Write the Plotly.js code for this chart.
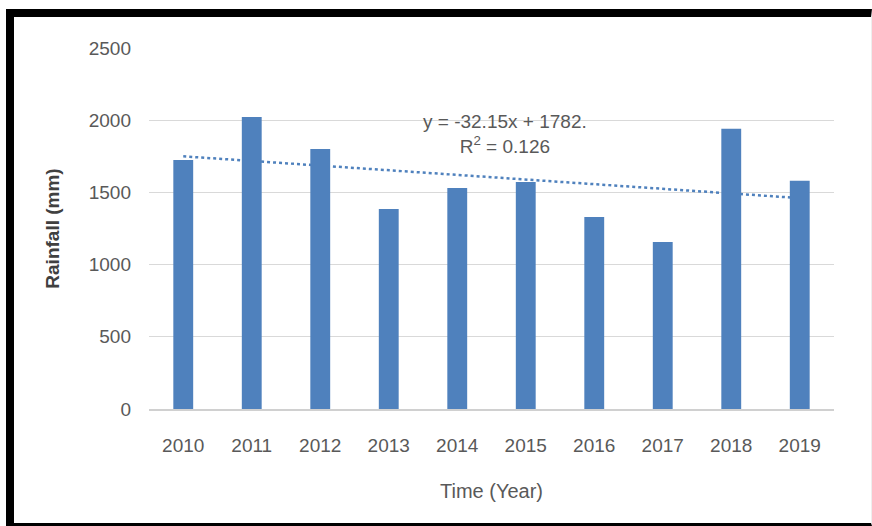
<!DOCTYPE html>
<html>
<head>
<meta charset="utf-8">
<script src="https://cdn.plot.ly/plotly-3.0.1.min.js"></script>
<style>
  html, body { margin:0; padding:0; background:#fff; }
  #chart { width:872px; height:526px; position:absolute; left:0; top:0; }
  #frame { position:absolute; left:6px; top:9px; width:866px; height:517px; box-sizing:border-box;
           border-top:8px solid #000; border-left:8px solid #000; border-bottom:3px solid #000;
           border-right:1px solid #eeeeee; pointer-events:none; }
</style>
</head>
<body>
<div id="chart"></div>
<div id="frame"></div>
<script>
// ---- data ----
const years = ['2010','2011','2012','2013','2014','2015','2016','2017','2018','2019'];
const rainfall = [1725, 2022, 1800, 1385, 1530, 1572, 1330, 1157, 1940, 1580];
const trendSlope = -32.15;
const trendIntercept = 1782;
const equationText = 'y = -32.15x + 1782.';
const r2Text = 'R<sup>2</sup> = 0.126';
const yTicks = [0, 500, 1000, 1500, 2000, 2500];

const trendY = years.map((_, i) => trendIntercept + trendSlope * (i + 1));

const textColor = '#595959';
const font = 'Liberation Sans, Arial, sans-serif';

const traces = [
  {
    type: 'scatter', mode: 'lines', x: years, y: trendY,
    xaxis: 'x', yaxis: 'y',
    line: { color: '#4f81bd', width: 2.5, dash: 'dot' },
    hoverinfo: 'skip', showlegend: false
  },
  {
    type: 'bar', x: years, y: rainfall,
    xaxis: 'x2', yaxis: 'y2',
    marker: { color: '#4f81bd' },
    showlegend: false
  }
];

const xCommon = { type: 'category', range: [-0.5, 9.5], fixedrange: true };
const yCommon = { range: [0, 2500], fixedrange: true };

const layout = {
  width: 872, height: 526,
  margin: { l: 149, r: 38, t: 48, b: 117 },
  paper_bgcolor: '#ffffff', plot_bgcolor: '#ffffff',
  bargap: 0.71,
  showlegend: false,
  font: { family: font, color: textColor, size: 18 },
  xaxis: Object.assign({}, xCommon, {
    showgrid: false, zeroline: false,
    showline: true, linecolor: '#d0d0d0', linewidth: 1.5,
    ticks: '', ticklabelstandoff: 19,
    tickfont: { family: font, size: 19, color: textColor },
    title: { text: 'Time (Year)', font: { family: font, size: 20, color: textColor }, standoff: 28 },
    automargin: false
  }),
  yaxis: Object.assign({}, yCommon, {
    tickvals: yTicks, ticktext: yTicks.map(String),
    showgrid: true, gridcolor: '#d9d9d9', gridwidth: 1,
    zeroline: false, showline: false, ticks: '',
    ticklabelstandoff: 17,
    tickfont: { family: font, size: 19, color: textColor },
    title: { text: '<b>Rainfall (mm)</b>', font: { family: font, size: 19, color: '#404040' }, standoff: 24 },
    automargin: false
  }),
  xaxis2: Object.assign({}, xCommon, { overlaying: 'x', visible: false, matches: 'x' }),
  yaxis2: Object.assign({}, yCommon, { overlaying: 'y', visible: false, matches: 'y' }),
  annotations: [
    {
      xref: 'paper', yref: 'paper', x: 0.52, y: 0.762,
      xanchor: 'center', yanchor: 'middle', align: 'center', showarrow: false,
      text: equationText + '<br>' + r2Text,
      font: { family: font, size: 19, color: textColor }
    }
  ]
};

Plotly.newPlot('chart', traces, layout, { displayModeBar: false, staticPlot: true });
</script>
</body>
</html>
